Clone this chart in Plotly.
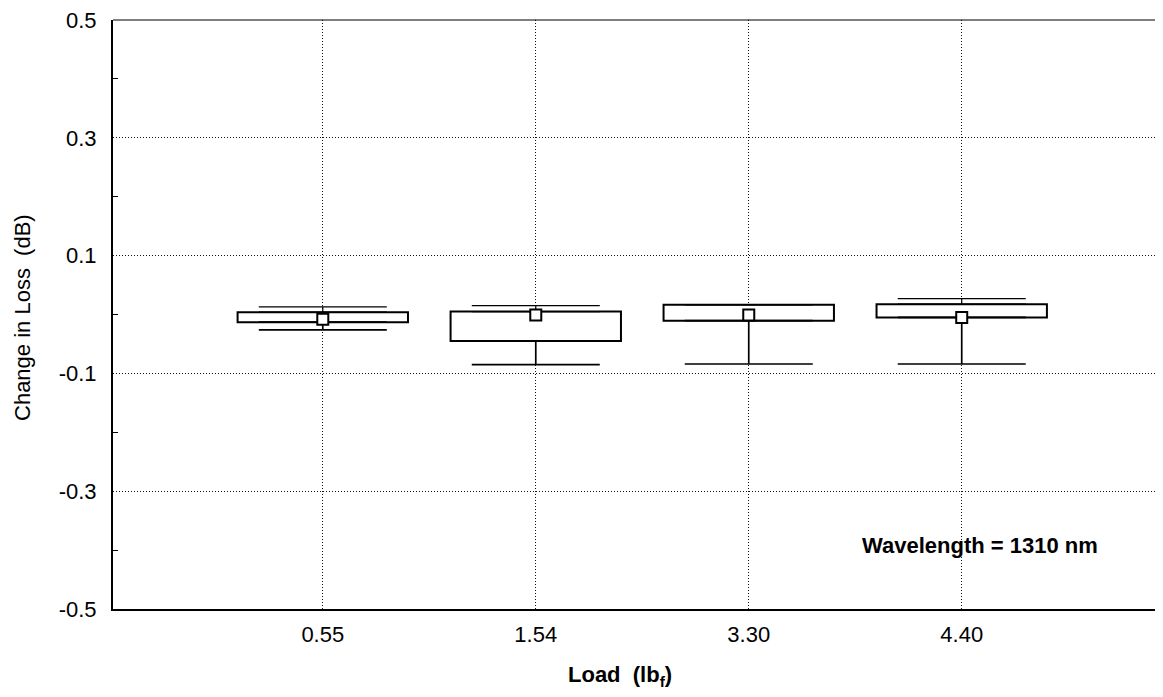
import plotly.graph_objects as go

loads = ["0.55", "1.54", "3.30", "4.40"]
q1 = [-0.013, -0.045, -0.0104, -0.005]
q3 = [0.004, 0.005, 0.0165, 0.0176]
upper = [0.013, 0.015, 0.0165, 0.027]
lower = [-0.026, -0.085, -0.084, -0.084]
center = [-0.008, -0.001, -0.001, -0.005]

y_tickvals = [-0.5, -0.3, -0.1, 0.1, 0.3, 0.5]
y_ticktext = ["-0.5", "-0.3", "-0.1", "0.1", "0.3", "0.5"]

FONT = "Liberation Sans, Arial, sans-serif"

# page body has an 8px margin; figure size/margins compensate for it
W, H = 1155, 689
L, R, T, B = 105, 0, 10, 88
PW, PH = W - L - R, H - T - B


def px(xpage):
    return (xpage - 8 - L) / PW


def py(ypage):
    return (H - B - (ypage - 8)) / PH


fig = go.Figure()

# boxes (interquartile range)
fig.add_trace(go.Bar(
    x=loads, base=q1, y=[b - a for a, b in zip(q1, q3)],
    width=0.8, marker=dict(color="white", line=dict(color="black", width=2)),
    showlegend=False, hoverinfo="skip"))

# lower whiskers
fig.add_trace(go.Scatter(
    x=loads, y=q1, mode="markers",
    marker=dict(size=1, color="rgba(0,0,0,0)"),
    error_y=dict(type="data", symmetric=False,
                 array=[0] * len(loads),
                 arrayminus=[a - l for a, l in zip(q1, lower)],
                 color="black", thickness=1.7, width=64),
    showlegend=False, hoverinfo="skip"))

# upper whiskers
fig.add_trace(go.Scatter(
    x=loads, y=q3, mode="markers",
    marker=dict(size=1, color="rgba(0,0,0,0)"),
    error_y=dict(type="data", symmetric=False,
                 array=[u - b for u, b in zip(upper, q3)],
                 arrayminus=[0] * len(loads),
                 color="black", thickness=1.2, width=64),
    showlegend=False, hoverinfo="skip"))

# center markers
fig.add_trace(go.Scatter(
    x=loads, y=center, mode="markers",
    marker=dict(symbol="square", size=11, color="white",
                line=dict(color="black", width=2)),
    showlegend=False, hoverinfo="skip"))

fig.update_layout(
    width=W, height=H,
    margin=dict(l=L, r=R, t=T, b=B),
    paper_bgcolor="white", plot_bgcolor="white",
    barmode="overlay",
    font=dict(family=FONT, size=22, color="black"),
    xaxis=dict(
        type="category", range=[-0.985, 3.945],
        showgrid=True, gridcolor="#111111", griddash="1px,2px", gridwidth=1,
        showline=True, linecolor="black", linewidth=2,
        ticks="", tickfont=dict(size=22), ticklabelstandoff=5,
        zeroline=False,
    ),
    yaxis=dict(
        range=[-0.5, 0.5], tickvals=y_tickvals, ticktext=y_ticktext,
        showgrid=True, gridcolor="#111111", griddash="1px,2px", gridwidth=1,
        showline=True, linecolor="black", linewidth=2,
        ticks="", tickfont=dict(size=22), ticklabelstandoff=10,
        ticklabeloverflow="allow",
        zeroline=False,
        minor=dict(tickvals=[-0.4, -0.2, 0.0, 0.2, 0.4], ticks="inside", ticklen=5,
                   tickcolor="black", tickwidth=1, showgrid=False),
    ),
    shapes=[
        dict(type="line", xref="paper", yref="paper", x0=0, x1=1, y0=1, y1=1,
             line=dict(color="black", width=1.2)),
    ],
    annotations=[
        dict(text="Change in Loss  (dB)", textangle=-90, xref="paper", yref="paper",
             x=px(23), y=py(317), xanchor="center", yanchor="middle",
             showarrow=False, font=dict(family=FONT, size=22)),
        dict(text="<b>Load  (lb<sub>f</sub>)</b>", xref="paper", yref="paper",
             x=px(620), y=py(676), xanchor="center", yanchor="middle",
             showarrow=False, font=dict(family=FONT, size=22)),
        dict(text="<b>Wavelength = 1310 nm</b>", xref="paper", yref="paper",
             x=px(980), y=py(545), xanchor="center", yanchor="middle",
             showarrow=False, font=dict(family=FONT, size=22)),
    ],
)

fig.write_html("out.html")
